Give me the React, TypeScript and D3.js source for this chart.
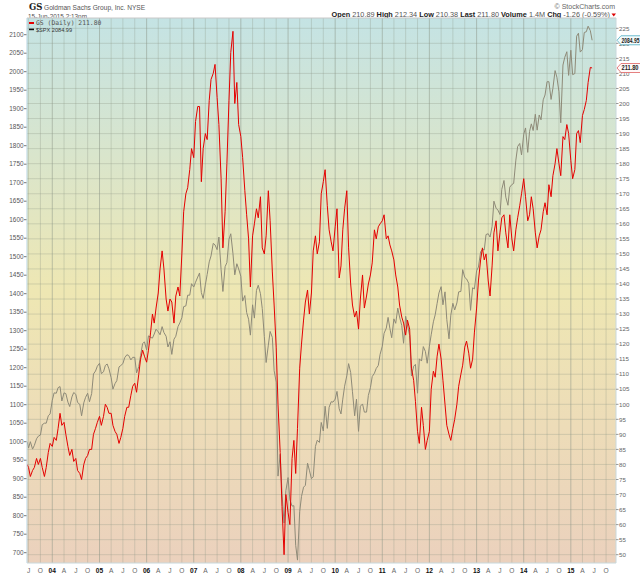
import * as d3 from 'd3'

// sample dates (1st and 15th of each month)
const dates = [
  '2003-06-20', '2003-07-01', '2003-07-15', '2003-08-01', '2003-08-15', '2003-09-01', '2003-09-15',
  '2003-10-01', '2003-10-15', '2003-11-01', '2003-11-15', '2003-12-01', '2003-12-15',
  '2004-01-01', '2004-01-15', '2004-02-01', '2004-02-15', '2004-03-01', '2004-03-15', '2004-04-01', '2004-04-15',
  '2004-05-01', '2004-05-15', '2004-06-01', '2004-06-15', '2004-07-01', '2004-07-15', '2004-08-01', '2004-08-15',
  '2004-09-01', '2004-09-15', '2004-10-01', '2004-10-15', '2004-11-01', '2004-11-15', '2004-12-01', '2004-12-15',
  '2005-01-01', '2005-01-15', '2005-02-01', '2005-02-15', '2005-03-01', '2005-03-15', '2005-04-01', '2005-04-15',
  '2005-05-01', '2005-05-15', '2005-06-01', '2005-06-15', '2005-07-01', '2005-07-15', '2005-08-01', '2005-08-15',
  '2005-09-01', '2005-09-15', '2005-10-01', '2005-10-15', '2005-11-01', '2005-11-15', '2005-12-01', '2005-12-15',
  '2006-01-01', '2006-01-15', '2006-02-01', '2006-02-15', '2006-03-01', '2006-03-15', '2006-04-01', '2006-04-15',
  '2006-05-01', '2006-05-15', '2006-06-01', '2006-06-15', '2006-07-01', '2006-07-15', '2006-08-01', '2006-08-15',
  '2006-09-01', '2006-09-15', '2006-10-01', '2006-10-15', '2006-11-01', '2006-11-15', '2006-12-01', '2006-12-15',
  '2007-01-01', '2007-01-15', '2007-02-01', '2007-02-15', '2007-03-01', '2007-03-15', '2007-04-01', '2007-04-15',
  '2007-05-01', '2007-05-15', '2007-06-01', '2007-06-15', '2007-07-01', '2007-07-15', '2007-08-01', '2007-08-15',
  '2007-09-01', '2007-09-15', '2007-10-01', '2007-10-15', '2007-11-01', '2007-11-15', '2007-12-01', '2007-12-15',
  '2008-01-01', '2008-01-15', '2008-02-01', '2008-02-15', '2008-03-01', '2008-03-15', '2008-04-01', '2008-04-15',
  '2008-05-01', '2008-05-15', '2008-06-01', '2008-06-15', '2008-07-01', '2008-07-15', '2008-08-01', '2008-08-15',
  '2008-09-01', '2008-09-15', '2008-10-01', '2008-10-15', '2008-11-01', '2008-11-15', '2008-12-01', '2008-12-15',
  '2009-01-01', '2009-01-15', '2009-02-01', '2009-02-15', '2009-03-01', '2009-03-15', '2009-04-01', '2009-04-15',
  '2009-05-01', '2009-05-15', '2009-06-01', '2009-06-15', '2009-07-01', '2009-07-15', '2009-08-01', '2009-08-15',
  '2009-09-01', '2009-09-15', '2009-10-01', '2009-10-15', '2009-11-01', '2009-11-15', '2009-12-01', '2009-12-15',
  '2010-01-01', '2010-01-15', '2010-02-01', '2010-02-15', '2010-03-01', '2010-03-15', '2010-04-01', '2010-04-15',
  '2010-05-01', '2010-05-15', '2010-06-01', '2010-06-15', '2010-07-01', '2010-07-15', '2010-08-01', '2010-08-15',
  '2010-09-01', '2010-09-15', '2010-10-01', '2010-10-15', '2010-11-01', '2010-11-15', '2010-12-01', '2010-12-15',
  '2011-01-01', '2011-01-15', '2011-02-01', '2011-02-15', '2011-03-01', '2011-03-15', '2011-04-01', '2011-04-15',
  '2011-05-01', '2011-05-15', '2011-06-01', '2011-06-15', '2011-07-01', '2011-07-15', '2011-08-01', '2011-08-15',
  '2011-09-01', '2011-09-15', '2011-10-01', '2011-10-15', '2011-11-01', '2011-11-15', '2011-12-01', '2011-12-15',
  '2012-01-01', '2012-01-15', '2012-02-01', '2012-02-15', '2012-03-01', '2012-03-15', '2012-04-01', '2012-04-15',
  '2012-05-01', '2012-05-15', '2012-06-01', '2012-06-15', '2012-07-01', '2012-07-15', '2012-08-01', '2012-08-15',
  '2012-09-01', '2012-09-15', '2012-10-01', '2012-10-15', '2012-11-01', '2012-11-15', '2012-12-01', '2012-12-15',
  '2013-01-01', '2013-01-15', '2013-02-01', '2013-02-15', '2013-03-01', '2013-03-15', '2013-04-01', '2013-04-15',
  '2013-05-01', '2013-05-15', '2013-06-01', '2013-06-15', '2013-07-01', '2013-07-15', '2013-08-01', '2013-08-15',
  '2013-09-01', '2013-09-15', '2013-10-01', '2013-10-15', '2013-11-01', '2013-11-15', '2013-12-01', '2013-12-15',
  '2014-01-01', '2014-01-15', '2014-02-01', '2014-02-15', '2014-03-01', '2014-03-15', '2014-04-01', '2014-04-15',
  '2014-05-01', '2014-05-15', '2014-06-01', '2014-06-15', '2014-07-01', '2014-07-15', '2014-08-01', '2014-08-15',
  '2014-09-01', '2014-09-15', '2014-10-01', '2014-10-15', '2014-11-01', '2014-11-15', '2014-12-01', '2014-12-15',
  '2015-01-01', '2015-01-15', '2015-02-01', '2015-02-15', '2015-03-01', '2015-03-15', '2015-04-01', '2015-04-15',
  '2015-05-01', '2015-05-15', '2015-06-01', '2015-06-15',
]

// GS close (right axis)
const gsClose = [
  80, 79, 76, 78, 79, 82, 80, 82, 79, 76, 79, 84, 87,
  86, 89, 88, 92, 97, 93, 94, 90, 86, 83, 85, 81, 82, 78, 77, 75, 80, 82, 83, 85, 85, 90, 92, 94,
  96, 93, 96, 100, 99, 97, 97, 93, 91, 90, 87, 89, 92, 96, 99, 99, 103, 106, 107, 104, 110, 115, 118, 116,
  114, 118, 124, 130, 127, 132, 137, 145, 151, 145, 135, 131, 135, 134, 127, 136, 139, 136, 150, 164, 170, 172, 178, 185,
  182, 194, 199, 199, 174, 185, 190, 188, 201, 208, 210, 213, 202, 193, 175, 152, 164, 180, 201, 217, 224, 200, 207, 193,
  189, 182, 171, 163, 155, 139, 156, 160, 165, 162, 169, 152, 150, 156, 171, 161, 144, 133, 119, 100, 84, 66, 50, 70,
  64, 60, 82, 88, 77, 92, 112, 120, 128, 134, 138, 130, 137, 151, 156, 150, 154, 170, 174, 178, 166, 158, 154, 151,
  159, 165, 142, 146, 158, 165, 171, 152, 140, 133, 129, 131, 125, 135, 143, 132, 136, 140, 143, 147, 158, 155, 159, 160,
  161, 163, 155, 156, 153, 151, 148, 143, 139, 133, 129, 127, 123, 128, 125, 112, 108, 101, 91, 87, 99, 93, 85, 88,
  91, 105, 111, 109, 116, 120, 115, 108, 100, 93, 90, 88, 92, 95, 100, 106, 110, 113, 119, 121, 117, 112, 115, 124,
  132, 141, 148, 152, 148, 150, 141, 136, 146, 157, 161, 151, 157, 162, 163, 157, 152, 163, 155, 151, 158, 162, 166, 170,
  175, 169, 161, 163, 169, 165, 157, 152, 156, 158, 164, 167, 163, 173, 169, 176, 180, 185, 180, 176, 189, 188, 193, 190,
  181, 175, 178, 190, 191, 187, 196, 198, 201, 207, 212, 211.8,
]

// S&P 500 close (left axis)
const spxClose = [
  1000, 983, 1000, 980, 990, 1008, 1015, 1018, 1046, 1050, 1050, 1070, 1075,
  1112, 1132, 1131, 1146, 1149, 1110, 1132, 1130, 1107, 1095, 1121, 1133, 1128, 1106, 1101, 1070, 1105, 1120, 1131, 1108, 1130, 1183, 1191, 1204,
  1212, 1184, 1189, 1206, 1210, 1197, 1173, 1142, 1157, 1165, 1202, 1206, 1211, 1227, 1235, 1233, 1221, 1228, 1228, 1186, 1203, 1233, 1265, 1270,
  1248, 1286, 1282, 1280, 1291, 1304, 1297, 1289, 1311, 1295, 1285, 1256, 1270, 1236, 1277, 1285, 1311, 1321, 1335, 1365, 1367, 1396, 1396, 1427,
  1418, 1431, 1445, 1456, 1403, 1387, 1424, 1452, 1486, 1502, 1536, 1532, 1519, 1553, 1465, 1406, 1473, 1484, 1547, 1562, 1508, 1451, 1481, 1467,
  1447, 1380, 1395, 1349, 1331, 1288, 1370, 1334, 1409, 1423, 1400, 1360, 1284, 1214, 1261, 1298, 1282, 1192, 1161, 907, 966, 860, 780, 868,
  903, 843, 826, 827, 720, 680, 811, 852, 877, 882, 942, 923, 900, 905, 987, 1004, 998, 1052, 1029, 1096, 1036, 1093, 1108, 1107,
  1115, 1136, 1089, 1075, 1115, 1150, 1178, 1211, 1187, 1135, 1070, 1115, 1028, 1096, 1102, 1080, 1080, 1125, 1146, 1176, 1185, 1198, 1206, 1236,
  1258, 1293, 1307, 1336, 1306, 1281, 1332, 1320, 1361, 1337, 1314, 1266, 1339, 1316, 1287, 1178, 1204, 1209, 1131, 1224, 1218, 1257, 1244, 1212,
  1258, 1289, 1324, 1343, 1374, 1402, 1419, 1370, 1405, 1330, 1278, 1342, 1374, 1356, 1375, 1405, 1406, 1465, 1444, 1440, 1428, 1355, 1416, 1413,
  1462, 1472, 1513, 1520, 1518, 1560, 1562, 1553, 1582, 1650, 1631, 1626, 1614, 1682, 1706, 1661, 1639, 1688, 1695, 1698, 1761, 1798, 1806, 1775,
  1831, 1848, 1782, 1838, 1859, 1841, 1885, 1842, 1883, 1870, 1924, 1937, 1973, 1973, 1925, 1955, 2003, 1985, 1946, 1862, 2018, 2039, 2054, 1990,
  2058, 1992, 1995, 2096, 2104, 2053, 2060, 2106, 2108, 2123, 2111, 2085,
]

const leftTicks = d3.range(700, 2101, 50)
const rightTicks = d3.range(50, 226, 5)
const monthLetters = ['J', 'F', 'M', 'A', 'M', 'J', 'J', 'A', 'S', 'O', 'N', 'D']

const W = 640
const H = 576
const plot = { left: 27, right: 616, top: 18, bottom: 563 }

export default function App() {
  const parse = d3.timeParse('%Y-%m-%d')
  const points = dates.map((d, i) => ({ date: parse(d), gs: gsClose[i], spx: spxClose[i] }))

  const x = d3
    .scaleTime()
    .domain([new Date(2003, 5, 19), new Date(2015, 11, 17)])
    .range([plot.left, plot.right])
  const yLeft = d3.scaleLinear().domain([700, 2100]).range([552.7, 34.7])
  const yRight = d3.scaleLinear().domain([50, 225]).range([554.7, 28.3])

  const gsLine = d3
    .line()
    .x((d) => x(d.date))
    .y((d) => yRight(d.gs))
  const spxLine = d3
    .line()
    .x((d) => x(d.date))
    .y((d) => yLeft(d.spx))

  const quarters = d3.timeMonth.every(3).range(new Date(2003, 6, 1), new Date(2015, 11, 1))

  const font = 'Liberation Sans, Arial, sans-serif'

  // right-side price flags
  const flag = (yc, w) =>
    `M${plot.right + 1},${yc} L${plot.right + 5},${yc - 4.5} L${plot.right + 5 + w},${yc - 4.5} L${plot.right + 5 + w},${yc + 4.5} L${plot.right + 5},${yc + 4.5} Z`

  return (
    <div style={{ position: 'absolute', left: 0, top: 0 }}>
      <svg width={W} height={H} style={{ display: 'block', background: '#fff' }}>
        <defs>
          <linearGradient id="bg" x1="0" y1="0" x2="0" y2="1">
            <stop offset="0" stopColor="#c4e3e4" />
            <stop offset="0.25" stopColor="#d9e5cc" />
            <stop offset="0.5" stopColor="#eee7b3" />
            <stop offset="0.75" stopColor="#eddcb8" />
            <stop offset="1" stopColor="#ebd1bd" />
          </linearGradient>
          <clipPath id="plotClip">
            <rect x={plot.left} y={plot.top} width={plot.right - plot.left} height={plot.bottom - plot.top} />
          </clipPath>
        </defs>

        {/* header */}
        <text x={29} y={10} fontFamily="DejaVu Serif, serif" fontWeight="bold" fontSize={8.5} fill="#222">
          GS
        </text>
        <text x={44} y={10} fontFamily={font} fontSize={6.6} fill="#555">
          Goldman Sachs Group, Inc.  NYSE
        </text>
        <text x={28} y={18.5} fontFamily={font} fontSize={6.4} fill="#555">
          15-Jun-2015 2:13pm
        </text>
        <text x={615} y={8.5} textAnchor="end" fontFamily={font} fontSize={7} fill="#666">
          © StockCharts.com
        </text>
        <text x={610} y={17} textAnchor="end" fontFamily={font} fontSize={7.3} fill="#555">
          <tspan fontWeight="bold" fill="#222">Open </tspan>
          <tspan>210.89 </tspan>
          <tspan fontWeight="bold" fill="#222">High </tspan>
          <tspan>212.34 </tspan>
          <tspan fontWeight="bold" fill="#222">Low </tspan>
          <tspan>210.38 </tspan>
          <tspan fontWeight="bold" fill="#222">Last </tspan>
          <tspan>211.80 </tspan>
          <tspan fontWeight="bold" fill="#222">Volume </tspan>
          <tspan>1.4M </tspan>
          <tspan fontWeight="bold" fill="#222">Chg </tspan>
          <tspan>-1.26 (-0.59%)</tspan>
        </text>
        <path d="M611.5,13.5 L616,13.5 L613.75,16.5 Z" fill="#d00" />

        {/* plot background */}
        <rect
          x={plot.left}
          y={plot.top}
          width={plot.right - plot.left}
          height={plot.bottom - plot.top}
          fill="url(#bg)"
        />

        {/* grid */}
        <g>
          {rightTicks.map((t) => (
            <line
              key={'h' + t}
              x1={plot.left}
              x2={plot.right}
              y1={yRight(t)}
              y2={yRight(t)}
              stroke="#8a9486"
              strokeOpacity={0.3}
              strokeWidth={1}
            />
          ))}
          {quarters.map((q) => (
            <line
              key={'v' + q.getTime()}
              x1={x(q)}
              x2={x(q)}
              y1={plot.top}
              y2={plot.bottom}
              stroke="#8a9486"
              strokeOpacity={q.getMonth() === 0 ? 0.5 : 0.3}
              strokeWidth={1}
            />
          ))}
        </g>

        {/* series */}
        <g clipPath="url(#plotClip)">
          <path d={spxLine(points)} fill="none" stroke="#8e8a78" strokeWidth={1} strokeLinejoin="round" />
          <path d={gsLine(points)} fill="none" stroke="#e40000" strokeWidth={1} strokeLinejoin="round" />
        </g>

        {/* frame */}
        <line x1={plot.left} x2={plot.right} y1={plot.top} y2={plot.top} stroke="#c8c8c8" />
        <line x1={plot.left} x2={plot.left} y1={plot.top} y2={plot.bottom} stroke="#b7d3e0" />
        <line x1={plot.right} x2={plot.right} y1={plot.top} y2={plot.bottom} stroke="#c8d8dc" />
        <line x1={plot.left} x2={plot.right} y1={plot.bottom} y2={plot.bottom} stroke="#c8d8dc" />

        {/* legend */}
        <rect x={29} y={22} width={5} height={2} fill="#e40000" />
        <text x={36} y={25.3} fontFamily="DejaVu Sans Mono, monospace" fontSize={6.4} fill="#555">
          GS (Daily) 211.80
        </text>
        <rect x={29} y={28.6} width={5} height={1.6} fill="#111" />
        <text x={36} y={31.6} fontFamily={font} fontSize={5.6} fill="#333">
          $SPX 2084.99
        </text>

        {/* left axis */}
        {leftTicks.map((t) => (
          <g key={'l' + t}>
            <line x1={24} x2={26.5} y1={yLeft(t)} y2={yLeft(t)} stroke="#777" />
            <text
              x={23.5}
              y={yLeft(t) + 2.2}
              textAnchor="end"
              fontFamily={font}
              fontSize={6.4}
              fill="#555"
            >
              {t}
            </text>
          </g>
        ))}

        {/* right axis */}
        {rightTicks.map((t) => (
          <g key={'r' + t}>
            <line x1={plot.right} x2={plot.right + 2.5} y1={yRight(t)} y2={yRight(t)} stroke="#999" />
            <text x={plot.right + 3} y={yRight(t) + 2.2} fontFamily={font} fontSize={6.2} fill="#666">
              {t}
            </text>
          </g>
        ))}

        {/* price flags */}
        <path d={flag(yLeft(2084.95), 24)} fill="#f4fbfc" stroke="#5fb6c8" strokeWidth={0.9} />
        <text
          x={plot.right + 5.5}
          y={yLeft(2084.95) + 2.3}
          fontFamily={font}
          fontSize={6.4}
          fontWeight="bold"
          fill="#222"
          textLength={18}
          lengthAdjust="spacingAndGlyphs"
        >
          2084.95
        </text>
        <path d={flag(yRight(211.8), 24)} fill="#fff8f8" stroke="#e27272" strokeWidth={0.9} />
        <text
          x={plot.right + 5.5}
          y={yRight(211.8) + 2.3}
          fontFamily={font}
          fontSize={6.4}
          fontWeight="bold"
          fill="#222"
          textLength={17}
          lengthAdjust="spacingAndGlyphs"
        >
          211.80
        </text>

        {/* bottom axis */}
        {quarters.map((q) => {
          const isYear = q.getMonth() === 0
          return (
            <text
              key={'x' + q.getTime()}
              x={x(q)}
              y={572.5}
              textAnchor="middle"
              fontFamily={font}
              fontSize={6.6}
              fontWeight={isYear ? 'bold' : 'normal'}
              fill={isYear ? '#111' : '#666'}
            >
              {isYear ? d3.timeFormat('%y')(q) : monthLetters[q.getMonth()]}
            </text>
          )
        })}
      </svg>
    </div>
  )
}
